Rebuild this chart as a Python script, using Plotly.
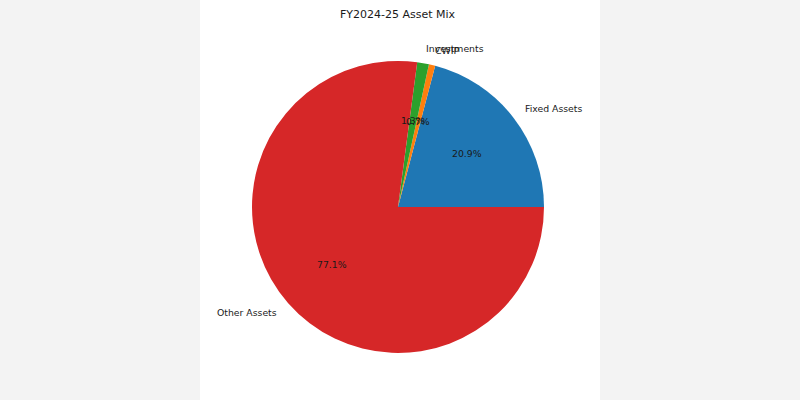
import math
import plotly.graph_objects as go

categories = ["Fixed Assets", "CWIP", "Investments", "Other Assets"]
shares = [20.9, 0.7, 1.3, 77.1]
colors = ["#1f77b4", "#ff7f0e", "#2ca02c", "#d62728"]
title = "FY2024-25 Asset Mix"

W, H = 800, 400
cx, cy, r = 398, 207, 146  # pixel center / radius of the pie

dom_x = [(cx - r) / W, (cx + r) / W]
dom_y = [1 - (cy + r) / H, 1 - (cy - r) / H]

total = sum(shares)
# plotly (counterclockwise) places the first slice so that it ends at the rotation angle;
# shift so the first slice starts at 3 o'clock like matplotlib
rot = 90 - 360.0 * shares[0] / total

fig = go.Figure()
fig.add_trace(go.Pie(
    labels=categories,
    values=shares,
    sort=False,
    direction="counterclockwise",
    rotation=rot,
    marker=dict(colors=colors, line=dict(width=0)),
    textinfo="none",
    hoverinfo="label+percent",
    domain=dict(x=dom_x, y=dom_y),
    showlegend=False,
))

font = dict(family="DejaVu Sans", size=9.3, color="#1a1a1a")
start = 0.0
annotations = []
for lab, v in zip(categories, shares):
    ang = start + 360.0 * v / total / 2
    start += 360.0 * v / total
    a = math.radians(ang)
    lx = cx + 1.1 * r * math.cos(a)
    ly = cy - 1.1 * r * math.sin(a)
    annotations.append(dict(
        x=lx / W, y=1 - ly / H, xref="paper", yref="paper",
        text=lab, showarrow=False, font=font, borderpad=0, borderwidth=0,
        xanchor="left" if math.cos(a) > 0 else "right", yanchor="middle",
    ))
    px = cx + 0.6 * r * math.cos(a)
    py = cy - 0.6 * r * math.sin(a)
    annotations.append(dict(
        x=px / W, y=1 - py / H, xref="paper", yref="paper",
        text=f"{v / total * 100:.1f}%", showarrow=False, font=font,
        borderpad=0, borderwidth=0,
        xanchor="center", yanchor="middle",
    ))

annotations.append(dict(
    x=398 / W, y=1 - 15 / H, xref="paper", yref="paper",
    text=title, showarrow=False,
    font=dict(family="DejaVu Sans", size=11, color="#1a1a1a"),
    xanchor="center", yanchor="middle",
))

fig.update_layout(
    width=W, height=H,
    margin=dict(l=0, r=0, t=0, b=0),
    paper_bgcolor="#f3f3f3",
    plot_bgcolor="#ffffff",
    annotations=annotations,
    shapes=[dict(type="rect", xref="paper", yref="paper",
                 x0=200 / W, x1=600 / W, y0=0, y1=1,
                 fillcolor="#ffffff", line=dict(width=0), layer="below")],
)

fig.write_html("out.html")
